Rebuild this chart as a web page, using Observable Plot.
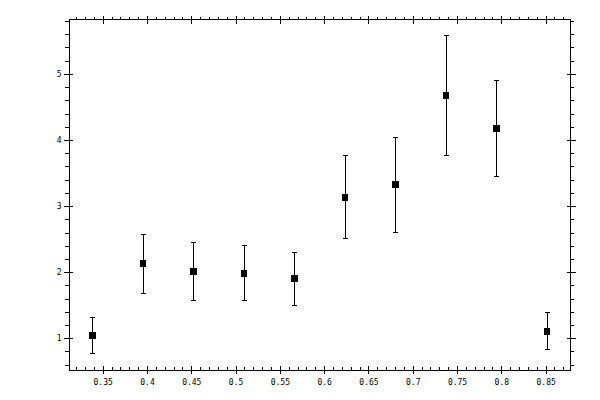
<!DOCTYPE html>
<html>
<head>
<meta charset="utf-8">
<script src="https://cdn.jsdelivr.net/npm/d3@7"></script>
<script src="https://cdn.jsdelivr.net/npm/@observablehq/plot@0.6"></script>
<style>
  html, body { margin: 0; padding: 0; background: #fff; }
  svg line, svg path, svg rect { shape-rendering: crispEdges; }
  svg text { fill: #000; }
</style>
</head>
<body>
<div id="chart"></div>
<script>
const xs = [0.338, 0.395, 0.452, 0.509, 0.566, 0.623, 0.680, 0.737, 0.794, 0.851];
const ys = [1.045, 2.14, 2.015, 1.985, 1.91, 3.136, 3.333, 4.68, 4.18, 1.106];
const lo = [0.77, 1.68, 1.576, 1.576, 1.50, 2.515, 2.606, 3.77, 3.455, 0.833];
const hi = [1.32, 2.576, 2.455, 2.41, 2.30, 3.77, 4.05, 5.59, 4.90, 1.39];

const xMajor = [0.35, 0.4, 0.45, 0.5, 0.55, 0.6, 0.65, 0.7, 0.75, 0.8, 0.85];
const xMinor = [0.32, 0.33, 0.34, 0.36, 0.37, 0.38, 0.39, 0.41, 0.42, 0.43, 0.44,
  0.46, 0.47, 0.48, 0.49, 0.51, 0.52, 0.53, 0.54, 0.56, 0.57, 0.58, 0.59,
  0.61, 0.62, 0.63, 0.64, 0.66, 0.67, 0.68, 0.69, 0.71, 0.72, 0.73, 0.74,
  0.76, 0.77, 0.78, 0.79, 0.81, 0.82, 0.83, 0.84, 0.86, 0.87];
const yMajor = [1, 2, 3, 4, 5];
const yMinor = [0.6, 0.8, 1.2, 1.4, 1.6, 1.8, 2.2, 2.4, 2.6, 2.8, 3.2, 3.4, 3.6, 3.8,
  4.2, 4.4, 4.6, 4.8, 5.2, 5.4, 5.6, 5.8];
const xTickLabels = ["0.35", "0.4", "0.45", "0.5", "0.55", "0.6", "0.65", "0.7", "0.75", "0.8", "0.85"];
const yTickLabels = ["1", "2", "3", "4", "5"];

const data = xs.map((x, i) => ({x, y: ys[i], lo: lo[i], hi: hi[i]}));

const capSymbol = {
  draw(ctx, size) {
    const w = Math.sqrt(size / Math.PI);
    ctx.moveTo(-w, 0);
    ctx.lineTo(w, 0);
  }
};

const blank = () => "";
const font = "DejaVu Sans Mono, monospace";

const chart = Plot.plot({
  width: 600,
  height: 400,
  marginLeft: 69,
  marginRight: 30,
  marginTop: 19,
  marginBottom: 30,
  style: {fontFamily: font, fontSize: "8px", background: "white", color: "black"},
  x: {domain: [0.312, 0.8775]},
  y: {domain: [0.52, 5.83]},
  marks: [
    Plot.frame({stroke: "black"}),
    // bottom axis
    Plot.axisX(xMajor, {anchor: "bottom", tickSize: 4, tickPadding: 5, label: null,
      tickFormat: (d) => xTickLabels[xMajor.indexOf(d)], fontSize: 8, fill: "black"}),
    Plot.axisX(xMajor, {anchor: "bottom", tickSize: -4, label: null, tickFormat: blank}),
    Plot.axisX(xMinor, {anchor: "bottom", tickSize: -3, label: null, tickFormat: blank}),
    // top axis
    Plot.axisX(xMajor, {anchor: "top", tickSize: 4, label: null, tickFormat: blank}),
    Plot.axisX(xMajor, {anchor: "top", tickSize: -4, label: null, tickFormat: blank}),
    Plot.axisX(xMinor, {anchor: "top", tickSize: 3, label: null, tickFormat: blank}),
    // left axis
    Plot.axisY(yMajor, {anchor: "left", tickSize: 5, tickPadding: 3, label: null,
      tickFormat: (d) => yTickLabels[yMajor.indexOf(d)], fontSize: 8, fill: "black"}),
    Plot.axisY(yMajor, {anchor: "left", tickSize: -4, label: null, tickFormat: blank}),
    Plot.axisY(yMinor, {anchor: "left", tickSize: 4, label: null, tickFormat: blank}),
    // right axis
    Plot.axisY(yMajor, {anchor: "right", tickSize: 5, label: null, tickFormat: blank}),
    Plot.axisY(yMajor, {anchor: "right", tickSize: -4, label: null, tickFormat: blank}),
    Plot.axisY(yMinor, {anchor: "right", tickSize: 3, label: null, tickFormat: blank}),
    // error bars
    Plot.ruleX(data, {x: "x", y1: "lo", y2: "hi", stroke: "black", strokeWidth: 1}),
    Plot.dot(data, {x: "x", y: "lo", symbol: capSymbol, r: 2.5, stroke: "black", fill: "none", strokeWidth: 1}),
    Plot.dot(data, {x: "x", y: "hi", symbol: capSymbol, r: 2.5, stroke: "black", fill: "none", strokeWidth: 1}),
    // markers
    Plot.dot(data, {x: "x", y: "y", symbol: "square", r: 3.9, fill: "black", stroke: "none"})
  ]
});
document.getElementById("chart").appendChild(chart);
</script>
</body>
</html>
